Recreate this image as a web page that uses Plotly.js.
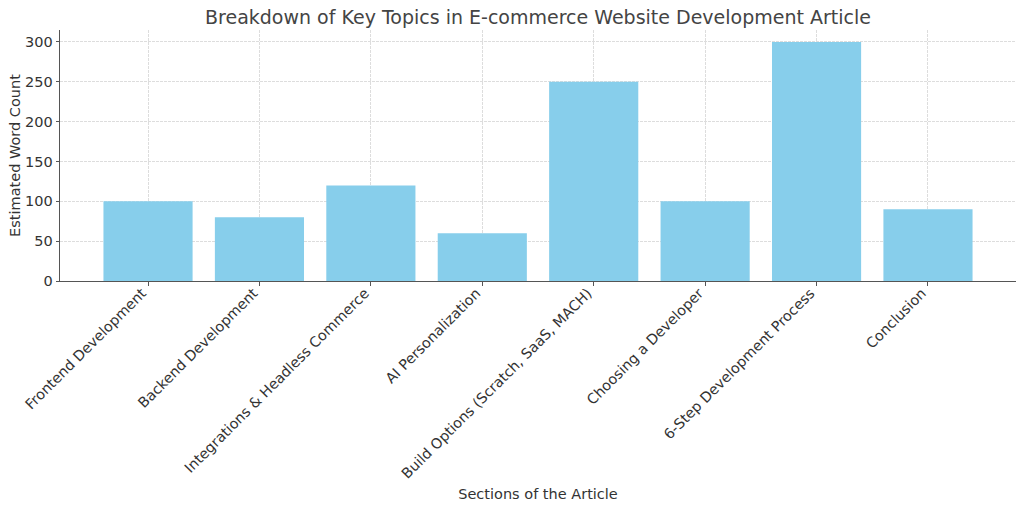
<!DOCTYPE html>
<html>
<head>
<meta charset="utf-8">
<script src="https://cdn.plot.ly/plotly-3.0.1.min.js"></script>
<style>
  html, body { margin: 0; padding: 0; background: #fff; }
  #plot { width: 1024px; height: 509px; }
</style>
</head>
<body>
<div id="plot"></div>
<script>
// data
const sections = [
    "Frontend Development",
    "Backend Development",
    "Integrations & Headless Commerce",
    "AI Personalization",
    "Build Options (Scratch, SaaS, MACH)",
    "Choosing a Developer",
    "6-Step Development Process",
    "Conclusion"
];
const wordCounts = [100, 80, 120, 60, 250, 100, 300, 90];
const yTicks = [0, 50, 100, 150, 200, 250, 300];

const font = "DejaVu Sans, sans-serif";
const textColor = "#333333";

let trace = {
    type: "bar",
    x: sections.map((s, i) => i),
    y: wordCounts,
    width: 0.8,
    marker: { color: "#87CEEB", line: { width: 0 } },
    hoverinfo: "x+y"
};

let layout = {
    width: 1024,
    height: 509,
    margin: { l: 60, r: 8, t: 30, b: 228 },
    paper_bgcolor: "#ffffff",
    plot_bgcolor: "#ffffff",
    font: { family: font, color: textColor, size: 14 },
    showlegend: false,
    title: {
        text: "Breakdown of Key Topics in E-commerce Website Development Article",
        font: { family: font, size: 19, color: "#444444" },
        xref: "paper",
        x: 0.5,
        xanchor: "center",
        y: 0.966,
        yanchor: "middle"
    },
    xaxis: {
        range: [-0.79, 7.79],
        tickmode: "array",
        tickvals: sections.map((s, i) => i),
        ticktext: sections,
        tickangle: -45,
        tickfont: { family: font, size: 14.3, color: textColor },
        ticks: "outside",
        ticklen: 4,
        tickcolor: "#555555",
        ticklabelstandoff: -7,
        ticklabelshift: -6,
        showline: true,
        linecolor: "#555555",
        linewidth: 1.3,
        showgrid: true,
        gridcolor: "#d4d4d4",
        griddash: "2.5px,1.5px",
        gridwidth: 0.8,
        zeroline: false,
        automargin: false,
        title: {
            text: "Sections of the Article",
            font: { family: font, size: 14.5, color: textColor },
            standoff: 8
        }
    },
    yaxis: {
        range: [0, 315],
        tickmode: "array",
        tickvals: yTicks,
        tickfont: { family: font, size: 14.5, color: textColor },
        ticks: "outside",
        ticklen: 3,
        tickcolor: "#555555",
        showline: true,
        linecolor: "#555555",
        linewidth: 1.3,
        showgrid: true,
        gridcolor: "#d4d4d4",
        griddash: "2.5px,1.5px",
        gridwidth: 0.8,
        zeroline: false,
        automargin: false,
        title: {
            text: "Estimated Word Count",
            font: { family: font, size: 14.5, color: textColor },
            standoff: 1
        }
    },
    bargap: 0.2
};

Plotly.newPlot("plot", [trace], layout, { displayModeBar: false, staticPlot: true });
</script>
</body>
</html>
